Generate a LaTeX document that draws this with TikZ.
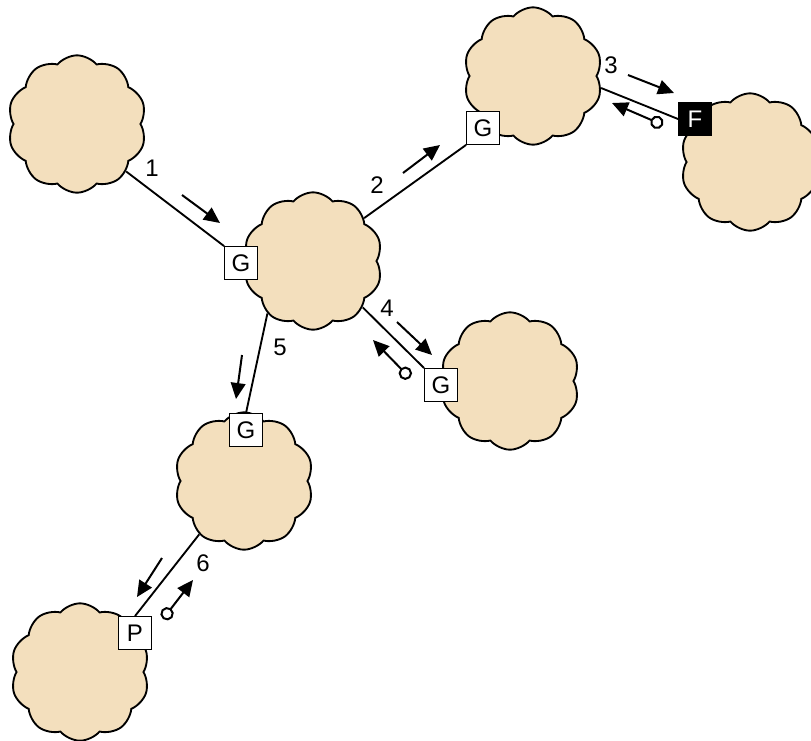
\documentclass[tikz,border=0pt]{standalone}
\usepackage{fontspec}
\setmainfont{Liberation Sans}
\usetikzlibrary{shapes.symbols,arrows.meta}

\definecolor{cloudtan}{RGB}{243,223,189}

\tikzset{
  net/.style={cloud, cloud puffs=10, cloud puff arc=100, aspect=1,
    draw=black, line width=1.4pt, fill=cloudtan,
    minimum width=104pt, minimum height=103pt, inner sep=0pt},
  gate/.style={draw=black, line width=0.9pt, fill=white,
    minimum size=24.5pt, inner sep=0pt, font=\fontsize{18}{18}\selectfont},
  firewall/.style={gate, fill=black, text=white},
  link/.style={line width=1.4pt},
  flow/.style={line width=1.5pt, -{Triangle[length=12pt,width=11pt]}},
  reply/.style={flow, {Circle[open,length=10pt,width=10pt]}-{Triangle[length=12pt,width=11pt]}},
  hop/.style={font=\fontsize{18}{18}\selectfont, inner sep=0pt}
}

\begin{document}
\begin{tikzpicture}[x=0.75pt,y=-0.75pt]
  \useasboundingbox (0,0) rectangle (811,740);

  % networks
  \node[net] (n1) at (77,124) {};
  \node[net, shape border rotate=10] (n2) at (313,261) {};
  \node[net, shape border rotate=-8] (n3) at (533,76) {};
  \node[net, shape border rotate=5] (n4) at (750,162) {};
  \node[net, shape border rotate=-12] (n5) at (510,381) {};
  \node[net, shape border rotate=20] (n6) at (244,481) {};
  \node[net, shape border rotate=15] (n7) at (80,672) {};

  % boxes on the borders
  \node[gate] (g1) at (241,263) {G};
  \node[gate] (g2) at (483,128) {G};
  \node[firewall] (f3) at (695,119) {F};
  \node[gate] (g4) at (441,385) {G};
  \node[gate] (g5) at (246,430) {G};
  \node[gate] (p6) at (135,633) {P};

  % links
  \draw[link] (n1.-44) -- (g1.north west);
  \draw[link] (n2.40) -- (g2.south west);
  \draw[link] (n3.-10) -- (f3.west);
  \draw[link] (n2.-43) -- (g4.north west);
  \draw[link] (n2.229) -- (g5.north);
  \draw[link] (n6.230) -- (p6.north);

  % hop numbers
  \node[hop] (h1) at (152,168) {1};
  \node[hop] (h2) at (377,185) {2};
  \node[hop] (h3) at (611,65) {3};
  \node[hop] (h4) at (387,308) {4};
  \node[hop] (h5) at (280,347) {5};
  \node[hop] (h6) at (203,563) {6};

  % traffic direction
  \draw[flow] (182,195) -- (220,223);
  \draw[flow] (403,173) -- (440,145);
  \draw[flow] (628,75) -- (674,93);
  \draw[flow] (397,322) -- (432,355);
  \draw[flow] (242,355) -- (236,399);
  \draw[flow] (162,558) -- (137,597);
  \draw[reply] (663,125) -- (612,103);
  \draw[reply] (410,378) -- (373,340);
  \draw[reply] (163,619) -- (193,580);
\end{tikzpicture}
\end{document}
